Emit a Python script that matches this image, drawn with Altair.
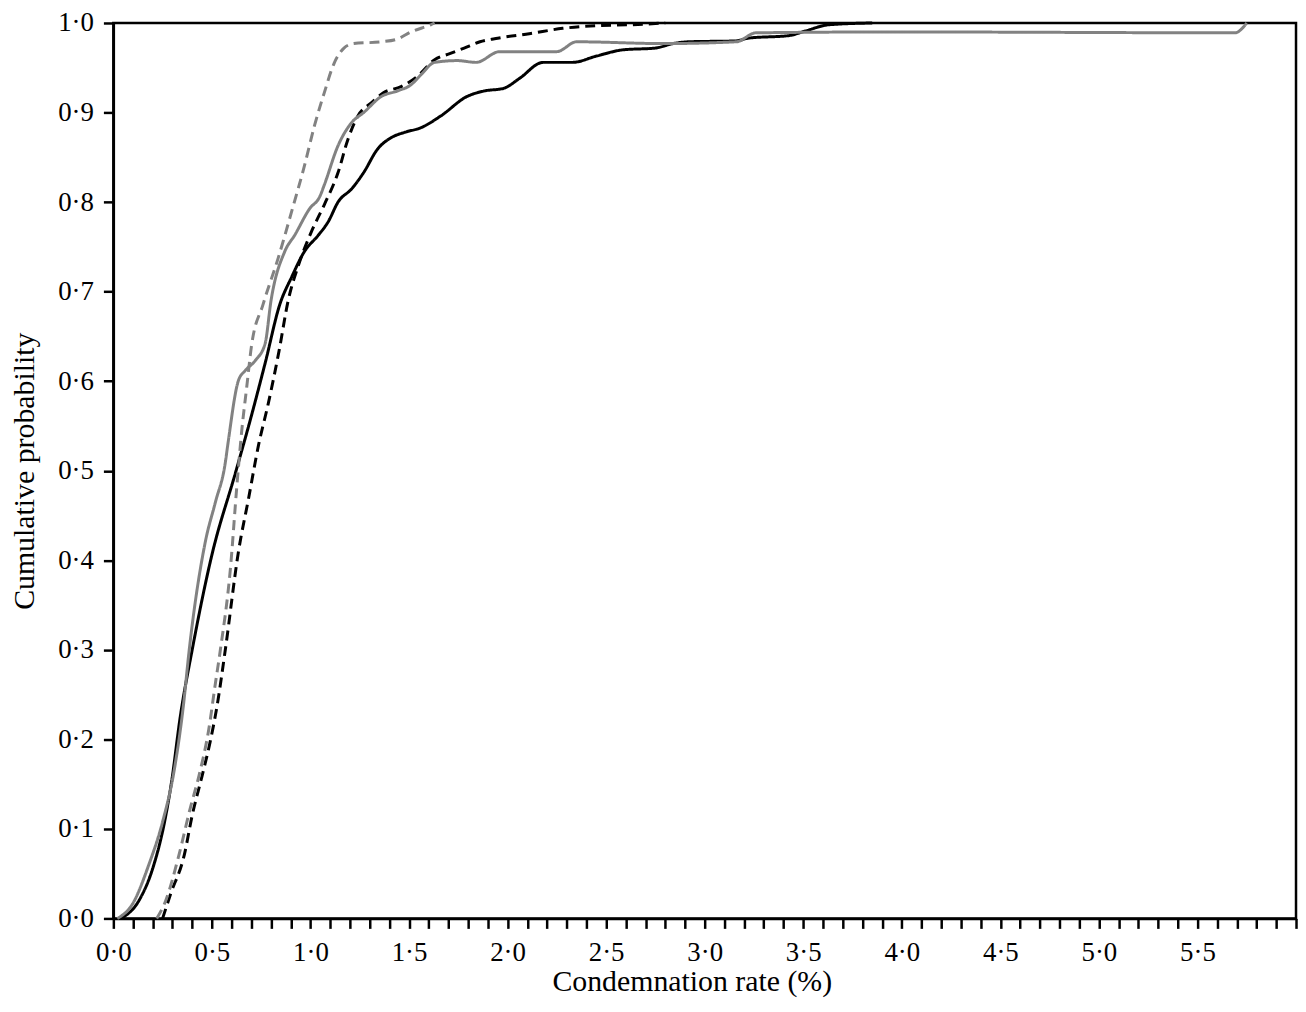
import altair as alt
import pandas as pd

# Series (x = condemnation rate %, y = cumulative probability)
black_solid_x = [0.04, 0.13, 0.20, 0.26, 0.295, 0.34, 0.40, 0.50, 0.62, 0.70, 0.77, 0.845, 0.904, 0.97,
                 1.04, 1.09, 1.14, 1.21, 1.27, 1.34, 1.41, 1.48, 1.56, 1.66, 1.795, 1.88, 1.98, 2.06,
                 2.18, 2.33, 2.45, 2.585, 2.75, 2.84, 2.92, 3.16, 3.22, 3.43, 3.51, 3.63, 3.85]
black_solid_y = [0.0, 0.02, 0.056, 0.108, 0.152, 0.226, 0.30, 0.406, 0.498, 0.561, 0.62, 0.686, 0.716, 0.745,
                 0.763, 0.778, 0.80, 0.815, 0.833, 0.859, 0.872, 0.878, 0.883, 0.896, 0.918, 0.924, 0.927, 0.938,
                 0.956, 0.956, 0.963, 0.970, 0.972, 0.977, 0.979, 0.980, 0.983, 0.986, 0.991, 0.998, 1.0]

gray_solid_x = [0.02, 0.097, 0.18, 0.25, 0.31, 0.355, 0.385, 0.467, 0.518, 0.568, 0.58, 0.635, 0.67, 0.72,
                0.77, 0.80, 0.87, 0.92, 0.997, 1.047, 1.07, 1.14, 1.21, 1.27, 1.36, 1.44, 1.51, 1.56,
                1.63, 1.745, 1.84, 1.96, 2.25, 2.35, 2.79, 3.16, 3.26, 3.96, 5.69, 5.75]
gray_solid_y = [0.0, 0.016, 0.06, 0.108, 0.167, 0.237, 0.30, 0.421, 0.465, 0.509, 0.528, 0.601, 0.612, 0.623,
                0.642, 0.69, 0.745, 0.763, 0.793, 0.806, 0.819, 0.863, 0.889, 0.900, 0.918, 0.924, 0.931, 0.942,
                0.956, 0.958, 0.956, 0.968, 0.968, 0.979, 0.977, 0.979, 0.989, 0.990, 0.989, 1.0]

black_dashed_x = [0.25, 0.29, 0.36, 0.40, 0.45, 0.49, 0.526, 0.568, 0.635, 0.686, 0.736, 0.787, 0.84, 0.887,
                  0.94, 1.005, 1.07, 1.14, 1.19, 1.24, 1.31, 1.37, 1.46, 1.54, 1.63, 1.71, 1.78, 1.86,
                  1.95, 2.11, 2.28, 2.45, 2.62, 2.8]
black_dashed_y = [0.0, 0.027, 0.071, 0.115, 0.159, 0.196, 0.237, 0.30, 0.41, 0.469, 0.528, 0.576, 0.633, 0.69,
                  0.73, 0.767, 0.797, 0.833, 0.870, 0.896, 0.911, 0.922, 0.929, 0.940, 0.959, 0.966, 0.972, 0.979,
                  0.983, 0.988, 0.994, 0.997, 0.998, 1.0]

gray_dashed_x = [0.22, 0.266, 0.333, 0.39, 0.434, 0.484, 0.518, 0.543, 0.594, 0.627, 0.652, 0.677, 0.70,
                 0.76, 0.837, 0.904, 0.97, 1.02, 1.07, 1.12, 1.17, 1.22, 1.36, 1.44, 1.51, 1.61, 1.63]
gray_dashed_y = [0.0, 0.02, 0.071, 0.123, 0.159, 0.211, 0.263, 0.30, 0.391, 0.484, 0.546, 0.594, 0.638,
                 0.686, 0.738, 0.789, 0.841, 0.885, 0.922, 0.955, 0.972, 0.977, 0.979, 0.982, 0.99, 0.998, 1.0]

series_names = ["black solid", "black dashed", "gray solid", "gray dashed"]
series_colors = ["#000000", "#000000", "#828282", "#828282"]
series_dashes = [[1, 0], [10, 6], [1, 0], [10, 6]]

x_ticks = [round(i * 0.1, 1) for i in range(61)]
y_ticks = [round(i * 0.1, 1) for i in range(11)]

rows = []
for name, xs, ys in [("black solid", black_solid_x, black_solid_y),
                     ("black dashed", black_dashed_x, black_dashed_y),
                     ("gray solid", gray_solid_x, gray_solid_y),
                     ("gray dashed", gray_dashed_x, gray_dashed_y)]:
    for i, (xv, yv) in enumerate(zip(xs, ys)):
        rows.append({"series": name, "x": xv, "y": yv, "order": i})
df = pd.DataFrame(rows)

FONT = "Liberation Serif"

chart = alt.Chart(df).mark_line(strokeWidth=3, interpolate="monotone").encode(
    x=alt.X("x:Q",
            scale=alt.Scale(domain=[0, 6], nice=False, zero=False),
            axis=alt.Axis(values=x_ticks,
                          labelExpr="(abs(datum.value*2 - round(datum.value*2)) < 0.001 && datum.value < 5.9) ? replace(format(datum.value, '.1f'), '.', '·') : ''",
                          title="Condemnation rate (%)",
                          titleX=582, titleY=73, titleBaseline="alphabetic", titleFontSize=30,
                          labelBaseline="alphabetic", labelPadding=32)),
    y=alt.Y("y:Q",
            scale=alt.Scale(domain=[0, 1], nice=False),
            axis=alt.Axis(values=y_ticks,
                          labelExpr="replace(format(datum.value, '.1f'), '.', '·')",
                          title="Cumulative probability",
                          titleX=-80, titleBaseline="alphabetic", titleFontSize=30,
                          labelPadding=10)),
    color=alt.Color("series:N", scale=alt.Scale(domain=series_names, range=series_colors), legend=None),
    strokeDash=alt.StrokeDash("series:N", scale=alt.Scale(domain=series_names, range=series_dashes), legend=None),
    order="order:Q",
).properties(
    width=1190, height=901,
    autosize=alt.AutoSizeParams(type="none"),
    padding={"left": 106, "top": 12, "right": 2, "bottom": 78},
).configure_view(
    stroke="#000000", strokeWidth=2.5
).configure_axis(
    grid=False,
    domainColor="#000000", domainWidth=2.5,
    tickColor="#000000", tickWidth=2.5, tickSize=10,
    labelFont=FONT, labelFontSize=27, labelColor="#000000",
    labelOverlap=False, labelFlush=False,
    titleFont=FONT, titleFontWeight="normal", titleColor="#000000",
)

chart.save("out.html", embed_options={"renderer": "svg", "actions": False})
